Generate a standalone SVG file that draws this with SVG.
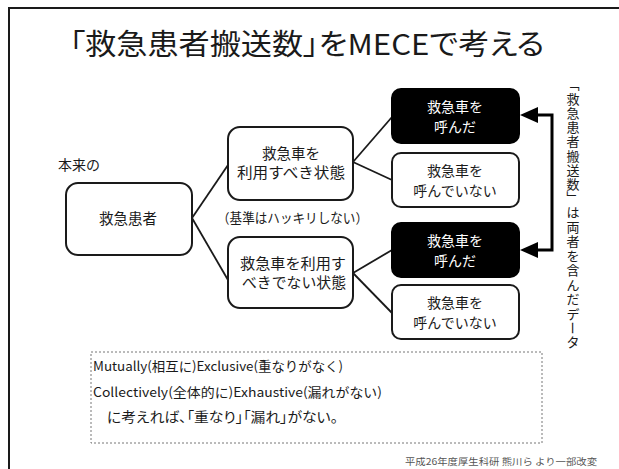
<svg xmlns="http://www.w3.org/2000/svg" width="619" height="469" viewBox="0 0 619 469">
<style>
text{font-family:"Noto Sans CJK JP","Noto Sans",sans-serif;fill:#1a1a1a}
.box{fill:#fff;stroke:#1a1a1a;stroke-width:2}
.blk{fill:#000;stroke:#000;stroke-width:2}
.bt{font-size:14.5px;text-anchor:middle}
.wt{font-size:14px;text-anchor:middle;fill:#fff}
.rt{font-size:14px;text-anchor:middle}
.ln{stroke:#1a1a1a;stroke-width:1.8;fill:none}
.mt{font-size:13px}
.palt{font-feature-settings:"palt" 1}
.vt{font-size:13px;text-anchor:middle}
</style>
<rect x="0" y="0" width="619" height="469" fill="#fff"/>
<path d="M9,469 L9,8 L619,8" fill="none" stroke="#1a1a1a" stroke-width="2"/>
<text class="palt" x="307" y="55" font-size="29" text-anchor="middle" textLength="475" lengthAdjust="spacingAndGlyphs">「救急患者搬送数」をMECEで考える</text>
<text x="58" y="170" font-size="14">本来の</text>
<text x="217" y="223" font-size="13.5" textLength="151" lengthAdjust="spacingAndGlyphs">（基準はハッキリしない）</text>
<g id="connectors">
<line class="ln" x1="192" y1="218" x2="228" y2="165"/>
<line class="ln" x1="192" y1="218" x2="228" y2="280"/>
<line class="ln" x1="353" y1="162" x2="392" y2="117"/>
<line class="ln" x1="353" y1="162" x2="392" y2="180"/>
<line class="ln" x1="353" y1="273" x2="392" y2="250"/>
<line class="ln" x1="353" y1="273" x2="392" y2="313"/>
<path d="M537,115 L552,115 L552,250 L537,250" fill="none" stroke="#000" stroke-width="3"/>
<path d="M520,115 L538,107 L538,123 z" fill="#000"/>
<path d="M520,250 L538,242 L538,258 z" fill="#000"/>
</g>
<g id="n-patient">
<rect class="box" x="66" y="183" width="126" height="72" rx="12"/>
<text class="bt" x="128" y="224">救急患者</text>
</g>
<g id="n-should">
<rect class="box" x="228" y="127" width="125" height="73" rx="12"/>
<text class="bt" x="291" y="159">救急車を</text>
<text class="bt" x="291" y="178" textLength="108" lengthAdjust="spacingAndGlyphs">利用すべき状態</text>
</g>
<g id="n-shouldnot">
<rect class="box" x="228" y="237" width="125" height="71" rx="12"/>
<text class="bt" x="293" y="269" textLength="106" lengthAdjust="spacingAndGlyphs">救急車を利用す</text>
<text class="bt" x="294" y="288" textLength="104" lengthAdjust="spacingAndGlyphs">べきでない状態</text>
</g>
<g id="n-called1">
<rect class="blk" x="392" y="89" width="127" height="54" rx="9"/>
<text class="wt" x="455" y="112">救急車を</text>
<text class="wt" x="455" y="132">呼んだ</text>
</g>
<g id="n-notcalled1">
<rect class="box" x="392" y="153" width="127" height="54" rx="9"/>
<text class="rt" x="455" y="176">救急車を</text>
<text class="rt" x="455" y="196">呼んでいない</text>
</g>
<g id="n-called2">
<rect class="blk" x="392" y="223" width="127" height="54" rx="9"/>
<text class="wt" x="455" y="246">救急車を</text>
<text class="wt" x="455" y="266">呼んだ</text>
</g>
<g id="n-notcalled2">
<rect class="box" x="392" y="285" width="127" height="54" rx="9"/>
<text class="rt" x="455" y="308">救急車を</text>
<text class="rt" x="455" y="328">呼んでいない</text>
</g>
<g id="vertical-label">
<text class="vt"><tspan x="573" y="89">﹁</tspan><tspan x="573" y="103.5">救</tspan><tspan x="573" y="117.8">急</tspan><tspan x="573" y="132.1">患</tspan><tspan x="573" y="146.4">者</tspan><tspan x="573" y="160.7">搬</tspan><tspan x="573" y="175">送</tspan><tspan x="573" y="189.3">数</tspan><tspan x="573" y="202">﹂</tspan><tspan x="573" y="217">は</tspan><tspan x="573" y="231.5">両</tspan><tspan x="573" y="246">者</tspan><tspan x="573" y="260.5">を</tspan><tspan x="573" y="275">含</tspan><tspan x="573" y="289.5">ん</tspan><tspan x="573" y="304">だ</tspan><tspan x="573" y="318.5">デ</tspan></text>
<text class="vt" x="573" y="328" dominant-baseline="central" transform="rotate(90 573 328)">ー</text>
<text class="vt" x="573" y="347">タ</text>
</g>
<g id="mece">
<rect x="91" y="352" width="451" height="91" fill="none" stroke="#777" stroke-width="1" stroke-dasharray="2,2"/>
<text class="mt" x="93" y="371" textLength="250" lengthAdjust="spacingAndGlyphs">Mutually(相互に)Exclusive(重なりがなく)</text>
<text class="mt" x="93" y="397" textLength="289" lengthAdjust="spacingAndGlyphs">Collectively(全体的に)Exhaustive(漏れがない)</text>
<text class="palt" x="107" y="422" font-size="13.5" textLength="231" lengthAdjust="spacingAndGlyphs">に考えれば、「重なり」「漏れ」がない。</text>
</g>
<text x="405" y="465" font-size="9" style="fill:#555" textLength="192" lengthAdjust="spacingAndGlyphs">平成26年度厚生科研 熊川ら より一部改変</text>
</svg>
